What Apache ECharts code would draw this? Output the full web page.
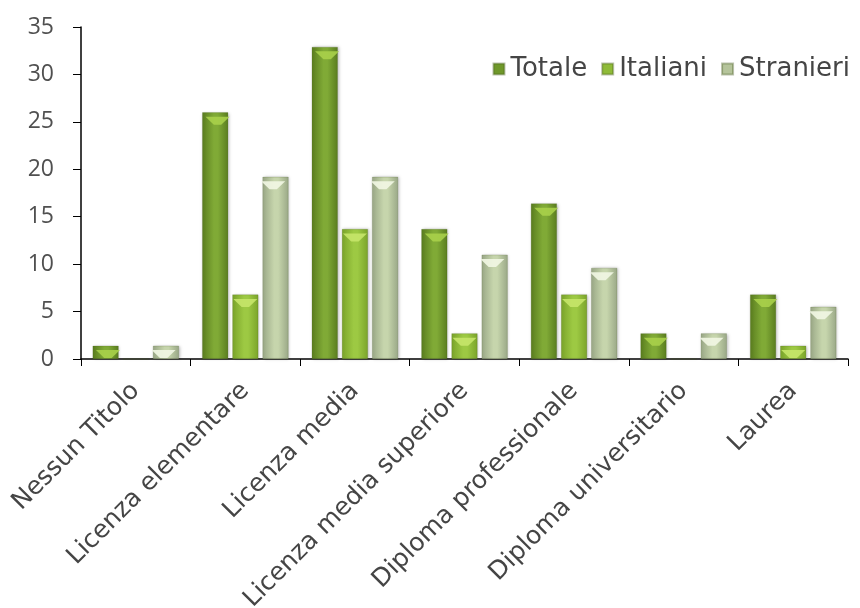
<!DOCTYPE html>
<html>
<head>
<meta charset="utf-8">
<script src="https://cdn.jsdelivr.net/npm/echarts@6/dist/echarts.min.js"></script>
<style>html,body{margin:0;padding:0;background:#fff;}#c{width:860px;height:608px;}</style>
</head>
<body>
<div id="c"></div>
<script>
const categories = ['Nessun Titolo','Licenza elementare','Licenza media','Licenza media superiore','Diploma professionale','Diploma universitario','Laurea'];
const totale = [1.4, 26.0, 32.9, 13.7, 16.4, 2.7, 6.8];
const italiani = [0, 6.8, 13.7, 2.7, 6.8, 0, 1.4];
const stranieri = [1.4, 19.2, 19.2, 11.0, 9.6, 2.7, 5.5];
const seriesNames = ['Totale','Italiani','Stranieri'];

function grad(edge, mid) {
  return new echarts.graphic.LinearGradient(0,0,1,0,[
    {offset:0,color:edge},{offset:0.45,color:mid},{offset:0.6,color:mid},{offset:1,color:edge}
  ]);
}
const fills = [grad('#5a7d1f','#80aa36'), grad('#7ba42a','#9dc943'), grad('#9aa887','#c6d5ac')];
const solid = ['#6f982a','#8fbb38','#b5c49b'];
const chevron = ['#a9d04a','#c6e66a','#f2f7e4'];
const offsets = ['-116%','0%','116%'];

const chart = echarts.init(document.getElementById('c'));
const tickFont = '"Open Sans", sans-serif';
const wideFont = '"DejaVu Sans", sans-serif';
const data = [totale, italiani, stranieri];

const barSeries = data.map((d,i)=>({
  name:seriesNames[i], type:'bar', data:d, barWidth:26, barGap:'16%', z:2,
  itemStyle:{color:fills[i],borderColor:'rgba(60,80,20,0.35)',borderWidth:0.5,
    shadowColor:'rgba(0,0,0,0.25)',shadowBlur:3,shadowOffsetX:1,shadowOffsetY:0}
}));
const capSeries = data.map((d,i)=>({
  name:seriesNames[i]+'_cap', type:'pictorialBar', z:3, silent:true,
  data:d.map(v=>v>0?v:'-'),
  symbol:'path://M0,0 L26,0 L17,8 L9,8 Z',
  symbolSize:[24,8], symbolPosition:'end', symbolOffset:[offsets[i], '55%'],
  itemStyle:{color:chevron[i],opacity:0.9}
}));

chart.setOption({
  animation:false,
  grid:{left:81,right:12,top:27,height:332,containLabel:false,outerBoundsMode:'none'},
  legend:{
    data:seriesNames.map((n,i)=>({name:n,itemStyle:{color:solid[i]}})),
    right:5, top:51, itemWidth:11, itemHeight:11, itemGap:14, icon:'rect',
    textStyle:{fontSize:26,color:'#454545',fontFamily:wideFont,padding:[0,0,0,1]}
  },
  xAxis:{
    type:'category', data:categories,
    axisLine:{lineStyle:{color:'#000',width:1.5}},
    axisTick:{show:true,length:7,alignWithLabel:false,lineStyle:{color:'#000'}},
    axisLabel:{rotate:45,fontSize:25,color:'#454545',margin:28,interval:0,fontFamily:wideFont}
  },
  yAxis:{
    type:'value', min:0, max:35, interval:5,
    axisLine:{show:true,lineStyle:{color:'#000',width:1.5}},
    axisTick:{show:true,length:8,lineStyle:{color:'#000'}},
    splitLine:{show:false},
    axisLabel:{fontSize:23,color:'#505050',margin:27,fontFamily:tickFont}
  },
  series: barSeries.concat(capSeries)
});
</script>
</body>
</html>
